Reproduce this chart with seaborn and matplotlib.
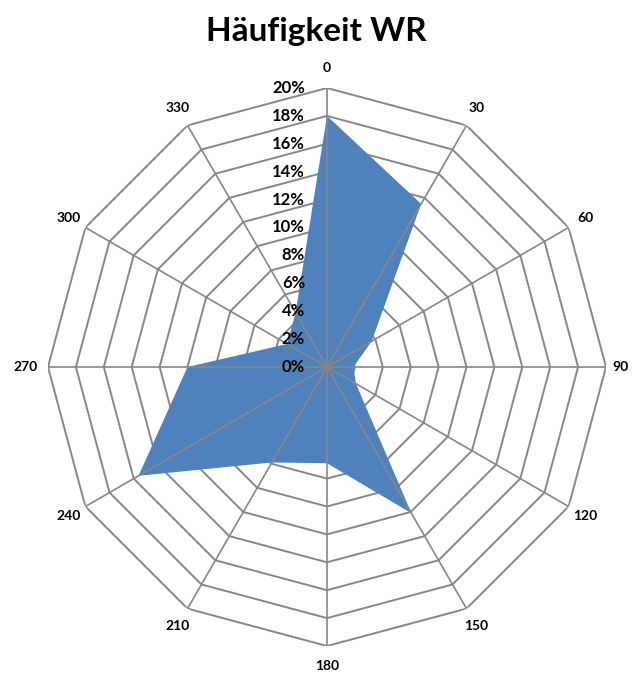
import numpy as np
import seaborn as sns
import matplotlib
matplotlib.use('Agg')
import matplotlib.pyplot as plt

# wind direction sectors (degrees) and frequency in percent
directions = [0, 30, 60, 90, 120, 150, 180, 210, 240, 270, 300, 330]
frequency = [18.0, 13.5, 3.7, 1.9, 2.4, 12.1, 6.9, 7.9, 15.6, 10.0, 3.3, 4.5]
rings = [0, 2, 4, 6, 8, 10, 12, 14, 16, 18, 20]
ring_labels = [f'{r}%' for r in rings]
dir_labels = [str(d) for d in directions]

sns.set_theme(style='white')
plt.rcParams['font.family'] = ['Lato', 'DejaVu Sans']

fig = plt.figure(figsize=(6.32, 6.75), dpi=100)
ax = fig.add_axes([48 / 632, 29 / 675, 558 / 632, 558 / 675], projection='polar')
ax.set_theta_zero_location('N')
ax.set_theta_direction(-1)
ax.set_facecolor('none')

theta = np.deg2rad(directions)
theta_closed = np.append(theta, theta[0])
vals_closed = frequency + [frequency[0]]
rmax = rings[-1]

# polygon grid rings (under the area), spokes on top
grid_color = '#878787'
for r in rings[1:]:
    ax.plot(theta_closed, [r] * len(theta_closed), color=grid_color, lw=1.4, zorder=1)
ax.fill(theta_closed, vals_closed, color='#4F81BD', lw=0, zorder=2)
for t in theta:
    ax.plot([t, t], [0, rmax], color=grid_color, lw=1.2, zorder=3)

ax.set_ylim(0, rmax)
ax.grid(False)
ax.spines['polar'].set_visible(False)
ax.set_yticklabels([])
ax.set_xticks([])

# direction labels outside the outer ring
for t, d, lab in zip(theta, directions, dir_labels):
    if d == 90:
        r, ha = rmax * 1.022, 'left'
    elif d == 270:
        r, ha = rmax * 1.036, 'right'
    else:
        r, ha = rmax * 1.07, 'center'
    ax.text(t, r, lab, ha=ha, va='center', fontsize=10, fontweight='bold',
            color='black', clip_on=False)

for r, lab in zip(rings, ring_labels):
    ax.annotate(lab, xy=(0, r), xytext=(-22, 0), textcoords='offset pixels',
                ha='right', va='center', fontsize=12, fontweight='bold',
                color='black', annotation_clip=False, zorder=4)

fig.suptitle('Häufigkeit WR', y=1 - 31 / 675, va='center', fontsize=24,
             fontweight='bold', color='black')
fig.savefig('out.png', dpi=100)
